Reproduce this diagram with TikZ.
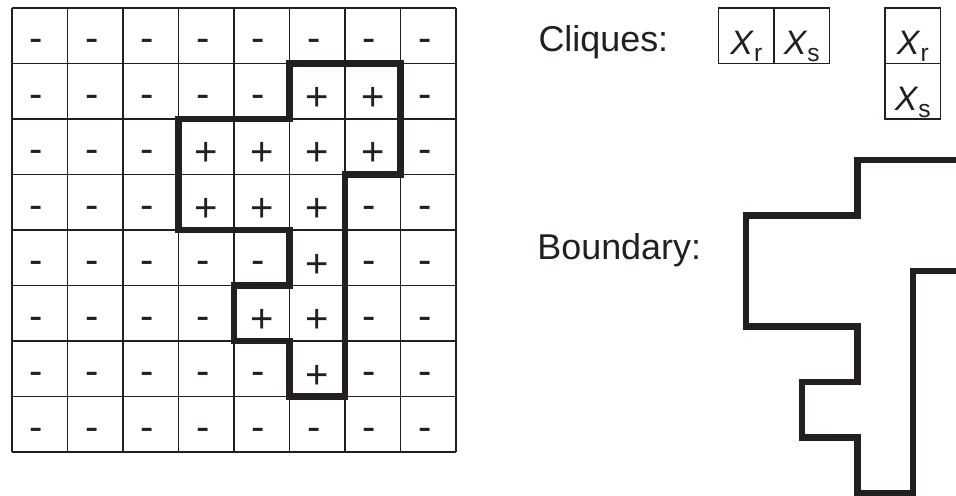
\documentclass[tikz,border=0pt]{standalone}
\usepackage{fontspec}
\setmainfont{Liberation Sans}
\definecolor{ink}{RGB}{35,31,32}
\newcommand{\Xsub}[1]{\textit{X}\raisebox{-3.4pt}{\fontsize{12.6}{15}\selectfont #1}}

\begin{document}
\begin{tikzpicture}[x=1cm, y=-1cm, ink,
    thinline/.style={line width=0.65pt},
    bnd/.style={line width=3.3pt, line join=miter},
    sgn/.style={inner sep=0pt, anchor=base, font=\fontsize{20.5}{24}\selectfont},
    plussign/.style={sgn, yshift=-0.047cm, node contents={+}},
    minussign/.style={sgn, yshift=0.01cm, xshift=-0.06cm, node contents={-}},
    lbl/.style={inner sep=0pt, anchor=base west, font=\fontsize{18.4}{22}\selectfont},
    clq/.style={draw, thinline, inner sep=0pt, minimum size=1cm,
      text height=0.694cm, text depth=0pt, font=\fontsize{17.4}{20}\selectfont}]
  \useasboundingbox (-0.2162,-0.1441) rectangle (17.009,8.775);

  % Grid
  \draw[thinline] (0,0) grid (8,8);

  % Signs, row by row
  \foreach \r/\row in {0/{m,m,m,m,m,m,m,m},
                       1/{m,m,m,m,m,p,p,m},
                       2/{m,m,m,p,p,p,p,m},
                       3/{m,m,m,p,p,p,m,m},
                       4/{m,m,m,m,m,p,m,m},
                       5/{m,m,m,m,p,p,m,m},
                       6/{m,m,m,m,m,p,m,m},
                       7/{m,m,m,m,m,m,m,m}}{
    \foreach \s [count=\c from 0] in \row {
      \if p\s
        \node[plussign, name=s\r\c, at={(\c+0.5,\r+0.8)}];
      \else
        \node[minussign, name=s\r\c, at={(\c+0.5,\r+0.8)}];
      \fi
    }
  }

  % Boundary of the + region
  \draw[bnd] (5,1) -- (7,1) -- (7,3) -- (6,3) -- (6,7) -- (5,7) -- (5,6)
    -- (4,6) -- (4,5) -- (5,5) -- (5,4) -- (3,4) -- (3,2) -- (5,2) -- cycle;

  % Cliques
  \node[lbl] (cliq) at (9.48,0.787) {Cliques:};
  \node[clq] (hr) at (13.23,0.5) {\Xsub{r}};
  \node[clq] (hs) at (14.23,0.5) {\Xsub{s}};
  \node[clq] (vr) at (16.23,0.5) {\Xsub{r}};
  \node[clq] (vs) at (16.23,1.5) {\Xsub{s}};

  % Boundary on its own
  \node[lbl] (bdry) at (9.46,4.523) {Boundary:};
  \begin{scope}
    \clip (-0.2162,-0.1441) rectangle (17.009,8.775);
    \draw[bnd, shift={(10.23,1.74)}] (5,1) -- (7,1) -- (7,3) -- (6,3) -- (6,7)
      -- (5,7) -- (5,6) -- (4,6) -- (4,5) -- (5,5) -- (5,4) -- (3,4)
      -- (3,2) -- (5,2) -- cycle;
  \end{scope}
\end{tikzpicture}
\end{document}
